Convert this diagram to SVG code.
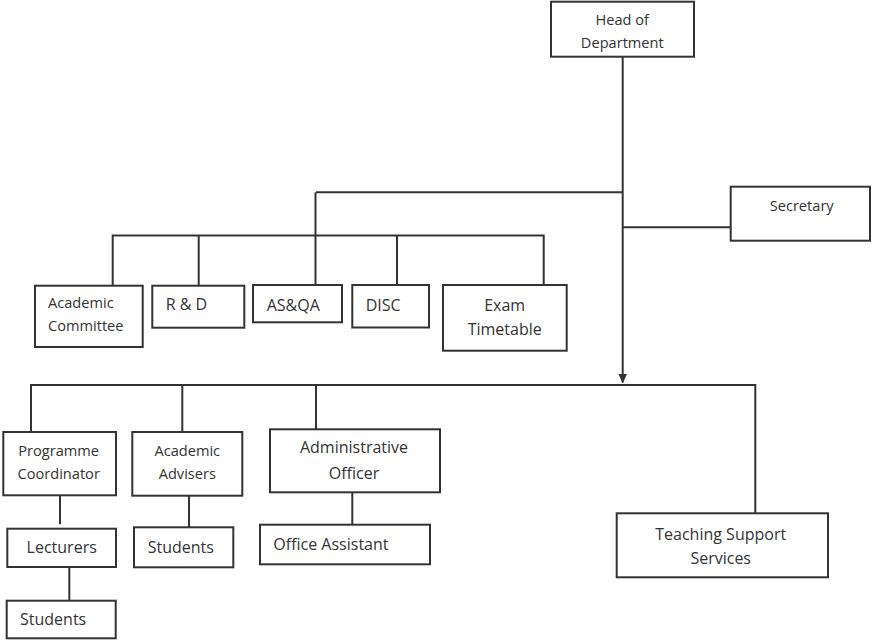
<svg xmlns="http://www.w3.org/2000/svg" width="873" height="641" viewBox="0 0 873 641">
<style>
rect.box{fill:#fff;stroke:#333;stroke-width:2}
.conn line,.conn polyline{stroke:#333;stroke-width:2;fill:none}
text{font-family:"Open Sans","Liberation Sans",sans-serif;fill:#333}
.s{font-size:14.6px}
.m{font-size:16px}
.c{text-anchor:middle}
</style>
<defs>
<marker id="arr" markerWidth="10" markerHeight="10" refX="9" refY="5" orient="auto" markerUnits="userSpaceOnUse">
<path d="M0,0.5 L10,5 L0,9.5 Z" fill="#333"/>
</marker>
</defs>
<rect width="873" height="641" fill="#fff"/>
<g class="conn">
<line x1="622.7" y1="57" x2="622.7" y2="382.5" marker-end="url(#arr)"/>
<line x1="316" y1="192.3" x2="622.7" y2="192.3"/>
<line x1="622.7" y1="227.3" x2="730.7" y2="227.3"/>
<line x1="315.5" y1="192.3" x2="315.5" y2="285"/>
<polyline points="112.7,285.7 112.7,235.5 543.7,235.5 543.7,285"/>
<line x1="198.7" y1="235.5" x2="198.7" y2="285.7"/>
<line x1="397" y1="235.5" x2="397" y2="285"/>
<polyline points="31,432 31,385 755.3,385 755.3,513.3"/>
<line x1="182.3" y1="385" x2="182.3" y2="432"/>
<line x1="316" y1="385" x2="316" y2="429.3"/>
<line x1="60" y1="495.3" x2="60" y2="524.3"/>
<line x1="69.3" y1="567" x2="69.3" y2="600.7"/>
<line x1="189" y1="495.7" x2="189" y2="527.3"/>
<line x1="352.3" y1="492.3" x2="352.3" y2="524.7"/>
</g>
<g id="head">
<rect class="box" x="551" y="1.7" width="143" height="55"/>
<text class="s c" x="622.3" y="25">Head of</text>
<text class="s c" x="622.3" y="48.3">Department</text>
</g>
<g id="secretary">
<rect class="box" x="730.7" y="186.7" width="139.3" height="54"/>
<text class="s c" x="801.7" y="210.7">Secretary</text>
</g>
<g id="academic-committee">
<rect class="box" x="35" y="285.7" width="107.7" height="61.3"/>
<text class="s" x="48" y="308">Academic</text>
<text class="s" x="48" y="331">Committee</text>
</g>
<g id="rd">
<rect class="box" x="152.3" y="285.7" width="92" height="42"/>
<text class="m" x="165.7" y="310">R &amp; D</text>
</g>
<g id="asqa">
<rect class="box" x="253" y="285" width="89" height="37.3"/>
<text class="m" x="266.7" y="310.7">AS&amp;QA</text>
</g>
<g id="disc">
<rect class="box" x="352.3" y="285" width="76.7" height="42.5"/>
<text class="m" x="365.7" y="310.7">DISC</text>
</g>
<g id="exam-timetable">
<rect class="box" x="443" y="285" width="123.7" height="65.7"/>
<text class="m c" x="504.7" y="310.7">Exam</text>
<text class="m c" x="504.7" y="335">Timetable</text>
</g>
<g id="programme-coordinator">
<rect class="box" x="3.3" y="432" width="112.7" height="63.3"/>
<text class="s c" x="58.7" y="456">Programme</text>
<text class="s c" x="58.7" y="479.3">Coordinator</text>
</g>
<g id="academic-advisers">
<rect class="box" x="132.3" y="432" width="110" height="63.7"/>
<text class="s c" x="187.3" y="456">Academic</text>
<text class="s c" x="187.3" y="479.3">Advisers</text>
</g>
<g id="administrative-officer">
<rect class="box" x="270" y="429.3" width="170" height="63"/>
<text class="m c" x="354" y="453.3">Administrative</text>
<text class="m c" x="354" y="479">Officer</text>
</g>
<g id="teaching-support">
<rect class="box" x="616.7" y="513.3" width="211.3" height="64"/>
<text class="m c" x="720.7" y="540">Teaching Support</text>
<text class="m c" x="720.7" y="564">Services</text>
</g>
<g id="lecturers">
<rect class="box" x="7.3" y="528.7" width="108.7" height="38.3"/>
<text class="m c" x="61.7" y="553.3">Lecturers</text>
</g>
<g id="students-1">
<rect class="box" x="6.7" y="600.7" width="109" height="37.6"/>
<text class="m" x="20" y="625">Students</text>
</g>
<g id="students-2">
<rect class="box" x="134" y="527.3" width="99.3" height="40"/>
<text class="m" x="147.7" y="552.7">Students</text>
</g>
<g id="office-assistant">
<rect class="box" x="260" y="524.7" width="170" height="39.6"/>
<text class="m" x="273.3" y="550">Office Assistant</text>
</g>
</svg>
